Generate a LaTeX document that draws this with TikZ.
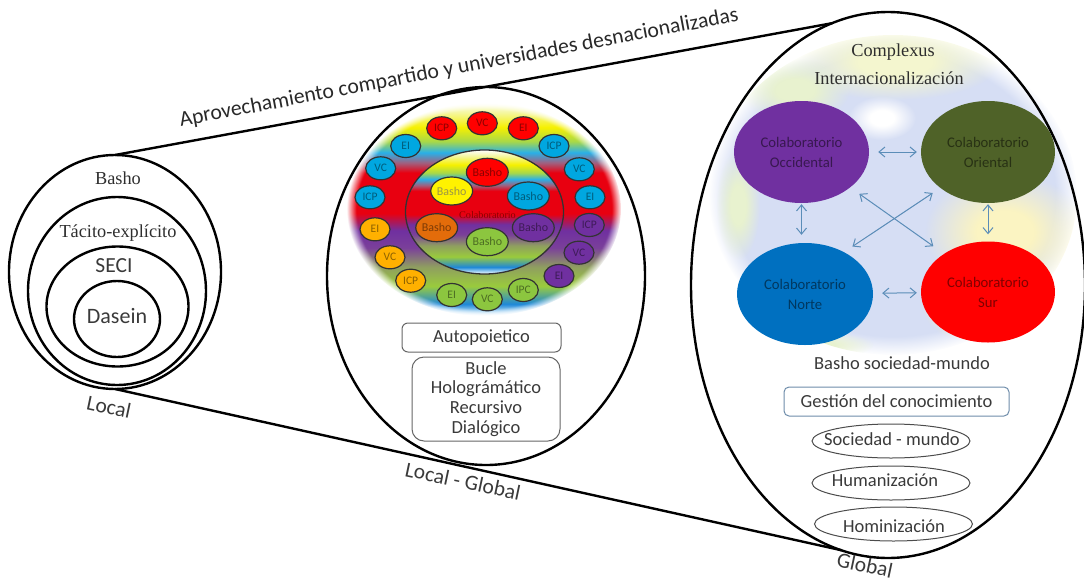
\documentclass[tikz,border=0pt]{standalone}
\usepackage{fontspec}
\setmainfont{Carlito}
\newfontfamily\serifx{Liberation Serif}
\usetikzlibrary{shapes.geometric,arrows.meta,fadings}
\newcommand\fsz[1]{\fontsize{#1}{#1}\selectfont}
\newcommand\fszb[2]{\fontsize{#1}{#2}\selectfont}
\definecolor{txt}{HTML}{3A3A3A}
\definecolor{bluea}{HTML}{00A7E0}
\definecolor{purp}{HTML}{7030A0}
\definecolor{orng}{HTML}{FFB000}
\definecolor{orngb}{HTML}{E36C0A}
\definecolor{grn}{HTML}{8CC63F}
\definecolor{arr}{HTML}{5B8DB8}
\definecolor{oliv}{HTML}{4F6228}
\definecolor{nort}{HTML}{0070C0}
\definecolor{gbox}{HTML}{6E8CAA}
\definecolor{gbase}{HTML}{D6DEF4}
\definecolor{gland}{HTML}{F4F6CF}
\definecolor{ggreen}{HTML}{E8F2CF}
\definecolor{gsand}{HTML}{FBF4C2}
\definecolor{s1}{HTML}{FFFFFF}
\definecolor{s2}{HTML}{9FD0F2}
\definecolor{s3}{HTML}{1E88D8}
\definecolor{s4}{HTML}{9ACB3C}
\definecolor{s5}{HTML}{8F9E60}
\definecolor{s6}{HTML}{7A3F9A}
\definecolor{s7}{HTML}{7030A0}
\definecolor{s8}{HTML}{E80010}
\definecolor{s9}{HTML}{A0607F}
\definecolor{s10}{HTML}{29B0E8}
\definecolor{s11}{HTML}{A8D848}
\definecolor{s12}{HTML}{F6F000}
\definecolor{s13}{HTML}{F5F7A0}
\pgfdeclareverticalshading{stripes}{100bp}{color(0bp)=(s1);color(25bp)=(s1);color(26.2bp)=(s2);color(27.8bp)=(s3);color(32bp)=(s4);color(36.5bp)=(s5);color(41bp)=(s6);color(45bp)=(s7);color(49bp)=(s8);color(58.5bp)=(s8);color(60.8bp)=(s9);color(63.2bp)=(s10);color(65.8bp)=(s11);color(69.1bp)=(s12);color(72.6bp)=(s13);color(75bp)=(s1);color(100bp)=(s1)}
\pgfdeclareradialshading{softedge}{\pgfpointorigin}{color(0bp)=(white);color(23.2bp)=(white);color(25bp)=(black);color(50bp)=(black)}
\pgfdeclarefading{softfade}{\pgfuseshading{softedge}}
\pgfdeclareradialshading{softblob}{\pgfpointorigin}{color(0bp)=(white);color(9bp)=(white);color(25bp)=(black);color(50bp)=(black)}
\pgfdeclarefading{blobfade}{\pgfuseshading{softblob}}
\pgfdeclareradialshading{softglobe}{\pgfpointorigin}{color(0bp)=(white);color(22bp)=(white);color(25bp)=(black);color(50bp)=(black)}
\pgfdeclarefading{globefade}{\pgfuseshading{softglobe}}
\tikzset{
  big/.style={draw=black,line width=2.4pt,ellipse,inner sep=0pt,outer sep=0pt},
  ov/.style={draw=black!80,line width=1.2pt,ellipse,inner sep=0pt,minimum width=30pt,minimum height=23pt,fill=#1,text=#1!55!black,font=\fsz{11.5}},
  bs/.style={draw=black!80,line width=1.2pt,ellipse,inner sep=0pt,minimum width=41pt,minimum height=28pt,fill=#1,text=#1!55!black,font=\fsz{12}},
  colab/.style={ellipse,inner sep=0pt,align=center,fill=#1,text=#1!50!black,font=\fszb{14.7}{20}},
  lab/.style={text=txt,inner sep=0pt,font=\fsz{18.5}},
  caplab/.style={text=txt,inner sep=0pt,font=\fsz{21.5}},
  sf/.style={text=txt!80!black,inner sep=0pt,font=\serifx\fsz{18.3}},
  rbox/.style={draw=#1,line width=1pt,rounded corners=6pt,inner sep=0pt,align=center,fill=white},
  oval/.style={draw=black!70,line width=1pt,ellipse,inner sep=0pt,minimum width=158pt,minimum height=34pt},
  dbl/.style={arr,line width=1pt,{Straight Barb[length=6pt,width=10pt]}-{Straight Barb[length=6pt,width=10pt]}},
  blob/.style={fill=#1,path fading=blobfade}
}
\begin{document}
\begin{tikzpicture}[x=1pt,y=-1pt]
\useasboundingbox (0,0) rectangle (1084,581);
% globe
\begin{scope}
  \clip (893,195) ellipse (184 and 160);
  \fill[gbase,path fading=globefade] (893,195) ellipse (184 and 160);
  \fill[blob=gland] (895,62) ellipse (105 and 38);
  \fill[blob=ggreen] (795,90) ellipse (55 and 32);
  \fill[blob=white] (882,118) ellipse (34 and 22);
  \fill[blob=ggreen] (738,205) ellipse (22 and 55);
  \fill[blob=gsand] (1005,232) ellipse (80 and 60);
  \fill[blob=gsand] (965,300) ellipse (45 and 40);
  \fill[blob=ggreen] (812,345) ellipse (62 and 14);
\end{scope}
% stripes
\shade[shading=stripes,path fading=softfade] (484,209) ellipse (137 and 107);
\shade[shading=stripes] (484.5,212) ellipse (79 and 62);
\draw[black!80,line width=1.3pt] (484.5,212) ellipse (79 and 62);
% big ellipses
\node[big,minimum width=212pt,minimum height=234pt] (loc) at (115,272) {};
\node[big,minimum width=178pt,minimum height=188pt] (tac) at (117,291) {};
\node[big,minimum width=142pt,minimum height=120pt] (sec) at (117.5,306.5) {};
\node[big,minimum width=86pt,minimum height=76pt] (das) at (117,319) {};
\node[big,minimum width=318pt,minimum height=378pt] (mid) at (486,276) {};
\node[big,minimum width=394pt,minimum height=546pt] (glo) at (888,285) {};
\draw[line width=2.4pt] (loc.north) -- (glo.102);
\draw[line width=2.4pt] (loc.south) -- (glo.260);
% left texts
\node[sf] (t1) at (118,178) {Basho};
\node[sf] (t2) at (118,233) {Tácito-explícito};
\node[text=txt,inner sep=0pt,font=\fsz{21.5}] (t3) at (114,266) {SECI};
\node[text=txt,inner sep=0pt,font=\fsz{22}] (t4) at (117,316) {Dasein};
\node[caplab,rotate=-12] (t5) at (109,407) {Local};
\node[caplab,rotate=-12] (t6) at (463,481) {Local - Global};
\node[caplab,rotate=-12] (t7) at (865,565) {Global};
\node[text=txt!70!black,inner sep=0pt,rotate=10.7,font=\fsz{21.7}] (t8) at (459,68) {Aprovechamiento compartido y universidades desnacionalizadas};
% outer ring
\node[ov=red] (a1) at (441.7,128.3) {ICP};
\node[ov=red] (a2) at (482.3,123.3) {VC};
\node[ov=red] (a3) at (523.3,128.3) {EI};
\node[ov=bluea] (a4) at (554,146) {ICP};
\node[ov=bluea] (a5) at (579.3,169.3) {VC};
\node[ov=bluea] (a6) at (590,197.3) {EI};
\node[ov=purp] (a7) at (589.3,225) {ICP};
\node[ov=purp] (a8) at (579,252.7) {VC};
\node[ov=purp] (a9) at (559,276) {EI};
\node[ov=grn] (a10) at (523.3,290) {IPC};
\node[ov=grn] (a11) at (487.3,299.3) {VC};
\node[ov=grn] (a12) at (451.7,295) {EI};
\node[ov=orng] (a13) at (410.7,280.7) {ICP};
\node[ov=orng] (a14) at (390,257.3) {VC};
\node[ov=orng] (a15) at (375,229.3) {EI};
\node[ov=bluea] (a16) at (370,197.3) {ICP};
\node[ov=bluea] (a17) at (380.7,168.3) {VC};
\node[ov=bluea] (a18) at (405.7,146) {EI};
% inner basho
\node[bs=red] (b1) at (487.3,172.3) {Basho};
\node[bs=yellow] (b2) at (451.7,191) {Basho};
\node[bs=bluea] (b3) at (528.3,196) {Basho};
\node[bs=orngb] (b4) at (436.7,227.7) {Basho};
\node[bs=grn] (b5) at (487.3,241.7) {Basho};
\node[bs=purp] (b6) at (533.3,227.7) {Basho};
\node[text=red!55!black,inner sep=0pt,font=\serifx\fsz{10.2}] (b7) at (487.5,215) {Colaboratorio};
% boxes middle
\node[rbox=black!60,minimum width=159pt,minimum height=29pt,text=txt,font=\fsz{18.5}] (c1) at (481.5,337.5) {Autopoietico};
\node[rbox=black!60,rounded corners=12pt,minimum width=148pt,minimum height=84pt,text=txt,font=\fszb{18.5}{19.8}] (c2) at (486,399) {Bucle\\Holográmático\\Recursivo\\Dialógico};
% right top
\node[sf,font=\serifx\fsz{18.3}] (d1) at (893,52) {Complexus};
\node[sf,font=\serifx\fsz{18.3}] (d2) at (889,78) {Internacionalización};
\node[colab=purp,minimum width=135pt,minimum height=102pt] (occ) at (801.5,152) {Colaboratorio\\Occidental};
\node[colab=oliv,minimum width=134pt,minimum height=102pt] (ori) at (988,152) {Colaboratorio\\Oriental};
\node[colab=nort,minimum width=136pt,minimum height=102pt] (nor) at (805,294) {Colaboratorio\\Norte};
\node[colab=red,minimum width=134pt,minimum height=101pt] (sur) at (988,292) {Colaboratorio\\Sur};
\draw[dbl,shorten <=9pt,shorten >=4pt] (occ) -- (ori);
\draw[dbl,shorten <=9pt,shorten >=4pt] (nor) -- (sur);
\draw[dbl,shorten <=1pt,shorten >=8pt] (occ.south) -- (occ.south |- nor.north);
\draw[dbl,shorten <=1pt,shorten >=7pt] (ori.south) -- (ori.south |- sur.north);
\draw[dbl,shorten <=11pt,shorten >=13pt] (occ.-36) -- (sur.139);
\draw[dbl,shorten <=9pt,shorten >=10pt] (ori.217) -- (nor.47);
% right bottom
\node[lab] (e1) at (902,363) {Basho sociedad-mundo};
\node[rbox=gbox,rounded corners=5pt,minimum width=225pt,minimum height=29pt,text=txt,font=\fsz{18.5}] (e2) at (896.5,401.5) {Gestión del conocimiento};
\node[oval] (e3) at (891,441) {};
\node[lab] (e3t) at (892,439) {Sociedad - mundo};
\node[oval] (e4) at (891,483) {};
\node[lab] (e4t) at (885,480) {Humanización};
\node[oval] (e5) at (893.5,524) {};
\node[lab] (e5t) at (894,526) {Hominización};
\end{tikzpicture}
\end{document}
